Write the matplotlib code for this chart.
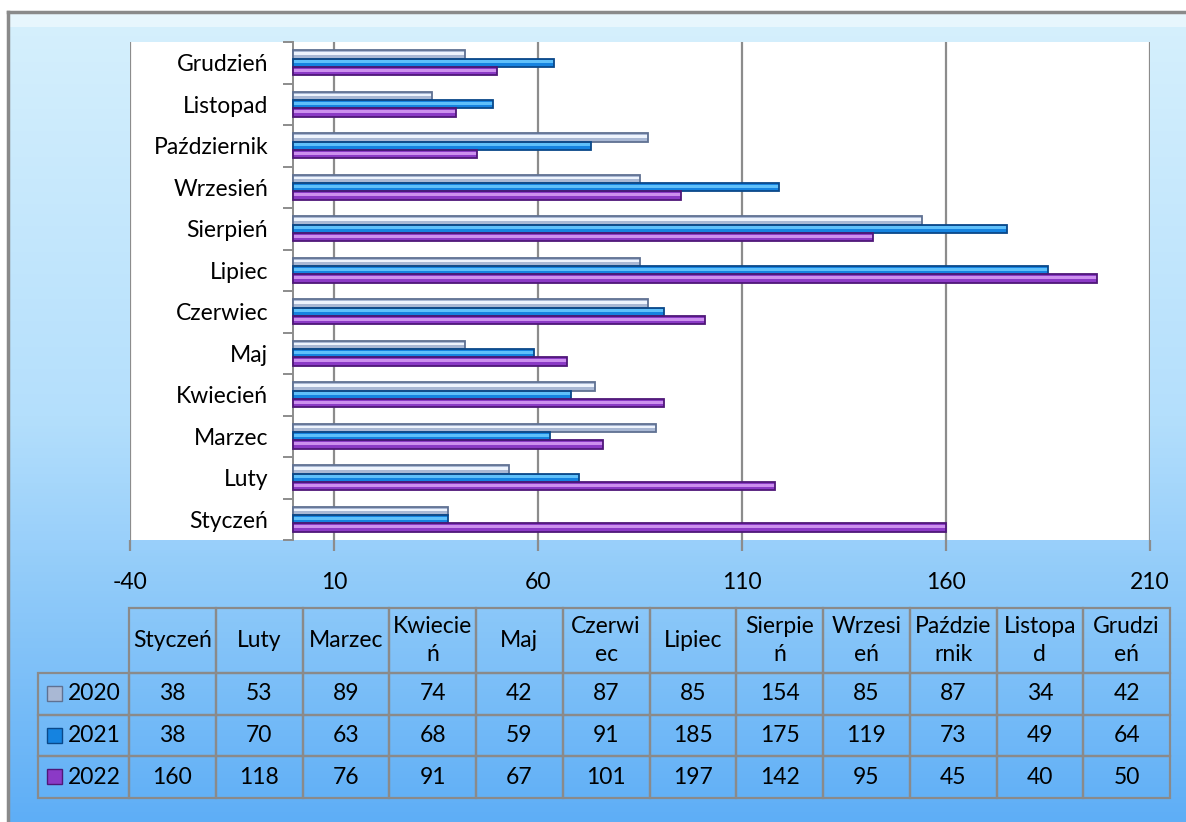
import numpy as np
import matplotlib
matplotlib.use("Agg")
import matplotlib.pyplot as plt
from matplotlib.patches import Rectangle
from matplotlib.colors import LinearSegmentedColormap

plt.rcParams['font.family'] = ['Lato', 'DejaVu Sans']
plt.rcParams['axes.unicode_minus'] = False

months = ['Styczeń', 'Luty', 'Marzec', 'Kwiecień', 'Maj', 'Czerwiec',
          'Lipiec', 'Sierpień', 'Wrzesień', 'Październik', 'Listopad', 'Grudzień']
# headers as they wrap inside the data table
table_headers = ['Styczeń', 'Luty', 'Marzec', 'Kwiecie\nń', 'Maj', 'Czerwi\nec',
                 'Lipiec', 'Sierpie\nń', 'Wrzesi\neń', 'Paździe\nrnik', 'Listopa\nd', 'Grudzi\neń']
years = ['2020', '2021', '2022']
v2020 = [38, 53, 89, 74, 42, 87, 85, 154, 85, 87, 34, 42]
v2021 = [38, 70, 63, 68, 59, 91, 185, 175, 119, 73, 49, 64]
v2022 = [160, 118, 76, 91, 67, 101, 197, 142, 95, 45, 40, 50]
xticks = [-40, 10, 60, 110, 160, 210]

series = [v2020, v2021, v2022]
# (base, highlight, edge)
styles = [('#a9b8d4', '#eef4fd', '#5f7192'),
          ('#1583e0', '#5fc0fa', '#0a4889'),
          ('#8b3ac6', '#cc90ee', '#4f1778')]

FS = 16.5
W, H = 1186, 822
fig = plt.figure(figsize=(W / 100, H / 100), dpi=100)

# background frame with gradient
bg = fig.add_axes([0, 0, 1, 1])
bg.set_xlim(0, W)
bg.set_ylim(H, 0)
bg.axis('off')
grad = np.linspace(0, 1, 256).reshape(-1, 1)
cmap = LinearSegmentedColormap.from_list('bg', ['#d6f0fd', '#b4dffc', '#5eaef6'])
bg.imshow(grad, extent=[8, W, H, 12], cmap=cmap, aspect='auto', zorder=0)
bg.add_patch(Rectangle((9, 14), W, 13, color='white', alpha=0.45, lw=0, zorder=1))
bg.plot([8, W], [12, 12], color='#8a8a8a', lw=2.5, zorder=2)
bg.plot([8, 8], [12, H], color='#8a8a8a', lw=2.5, zorder=2)

# bar chart
ax = fig.add_axes([130 / W, (H - 540) / H, 1020 / W, 498 / H])
ax.set_facecolor('white')
y = np.arange(len(months))
h = 0.2
offsets = [h, 0, -h]
for vals, off, (base, hi, edge) in zip(series, offsets, styles):
    ax.barh(y + off, vals, h, color=base, lw=0, zorder=3)
    ax.barh(y + off + h * 0.12, vals, h * 0.35, color=hi, lw=0, zorder=4)
    ax.barh(y + off, vals, h, fill=False, edgecolor=edge, lw=1.3, zorder=5)

ax.set_xlim(-40, 210)
ax.set_ylim(-0.5, len(months) - 0.5)
ax.set_xticks(xticks)
ax.grid(axis='x', color='#8c8c8c', lw=1.6, zorder=0)
ax.set_axisbelow(True)
for s in ['top', 'bottom', 'right']:
    ax.spines[s].set_visible(False)
ax.spines['left'].set_position(('data', 0))
ax.spines['left'].set_color('#8c8c8c')
ax.spines['left'].set_linewidth(1.4)
ax.set_yticks(y, months)
ax.set_yticks(np.arange(-0.5, len(months), 1), minor=True)
ax.tick_params(axis='y', which='major', length=0, pad=18, labelsize=FS)
ax.tick_params(axis='y', which='minor', length=7, color='#8c8c8c', width=1.4)
ax.tick_params(axis='x', length=8, color='#8c8c8c', width=1.6, pad=15, labelsize=FS)

# data table
lc = '#8a8a8a'
tx0, colw = 129, 86.75
lx0 = 38
htop, hbot = 608, 673
rh = 41.7
for i, lab in enumerate(table_headers):
    x = tx0 + i * colw
    bg.add_patch(Rectangle((x, htop), colw, hbot - htop, fill=False, ec=lc, lw=1.6, zorder=3))
    bg.text(x + colw / 2, (htop + hbot) / 2, lab, ha='center', va='center',
            fontsize=FS, linespacing=1.45, zorder=4)
for r, (yr, vals) in enumerate(zip(years, series)):
    yt = hbot + r * rh
    bg.add_patch(Rectangle((lx0, yt), tx0 - lx0, rh, fill=False, ec=lc, lw=1.6, zorder=3))
    bg.add_patch(Rectangle((47, yt + rh / 2 - 8), 15, 15, fc=styles[r][0], ec=styles[r][2],
                           lw=1, zorder=4))
    bg.text(68, yt + rh / 2, yr, ha='left', va='center', fontsize=FS, zorder=4)
    for i, v in enumerate(vals):
        x = tx0 + i * colw
        bg.add_patch(Rectangle((x, yt), colw, rh, fill=False, ec=lc, lw=1.6, zorder=3))
        bg.text(x + colw / 2, yt + rh / 2, str(v), ha='center', va='center',
                fontsize=FS, zorder=4)

fig.savefig('out.png', dpi=100)
